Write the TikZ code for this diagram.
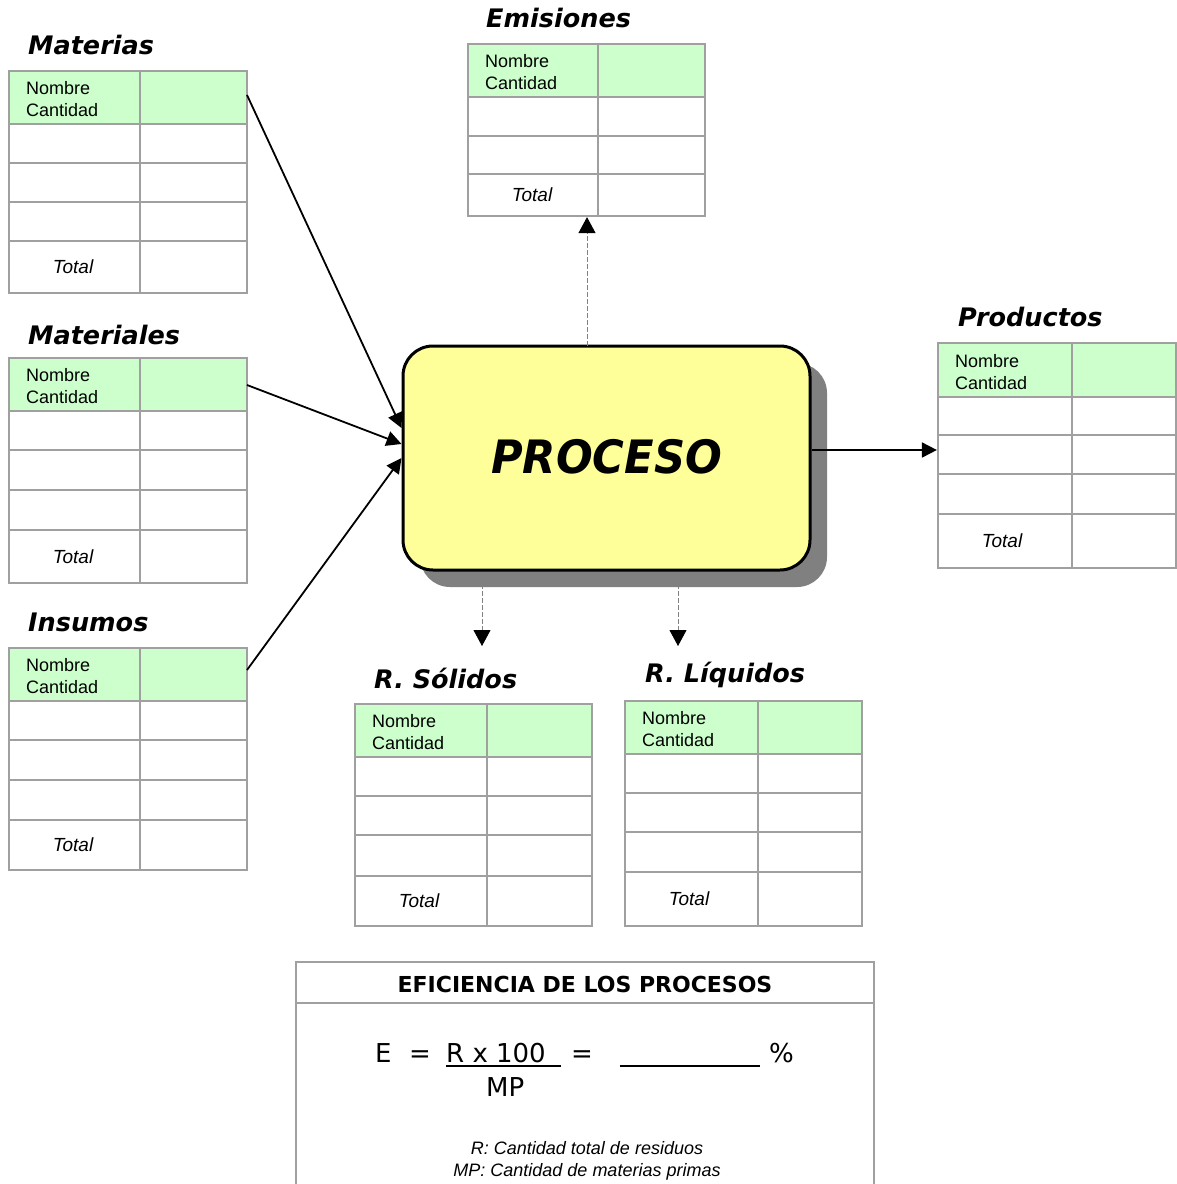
\documentclass[tikz,border=0pt]{standalone}
\usepackage{fontspec}
\setmainfont{Liberation Sans}
\newfontfamily\vfont{DejaVu Sans}
\usetikzlibrary{arrows.meta,calc}

\definecolor{headgreen}{HTML}{CCFFCC}
\definecolor{gridgray}{HTML}{A0A0A0}
\definecolor{procyellow}{HTML}{FFFF99}
\definecolor{shadowgray}{HTML}{808080}

\tikzset{
  grid line/.style={draw=gridgray, line width=2.2pt},
  cell text/.style={font=\fontsize{18}{22}\selectfont, align=left, inner sep=0pt, anchor=west},
  total text/.style={font=\fontsize{19}{22}\selectfont\itshape, inner sep=0pt},
  group title/.style={font=\vfont\bfseries\itshape\fontsize{25.5}{30}\selectfont, inner sep=0pt, anchor=west},
  flow/.style={line width=1.8pt, -{Triangle[length=15pt,width=15pt]}},
  aux flow/.style={draw=gray, line width=0.9pt, dash pattern=on 5pt off 2pt,
    -{Triangle[length=16pt,width=17pt,color=black]}},
  formula/.style={font=\vfont\fontsize{26}{30}\selectfont, inner sep=0pt, anchor=base west},
  note text/.style={font=\fontsize{18}{24}\selectfont\itshape, inner sep=0pt, align=center},
}

% #1 name, #2 left x, #3 column split x, #4 right x, #5 top y, #6 header bottom y,
% #7 inner row lines, #8 top of the total row, #9 bottom y
\newcommand{\flowtab}[9]{%
  \fill[headgreen] (#2,#5) rectangle (#4,#6);
  \node[grid line, inner sep=0pt, minimum width={(#4-#2)*1pt}, minimum height={(#9-#5)*1pt}]
    (#1) at ({(#2+#4)/2},{(#5+#9)/2}) {};
  \draw[grid line] (#3,#5) -- (#3,#9);
  \foreach \yy in {#6,#7,#8} \draw[grid line] (#2,\yy) -- (#4,\yy);
  \node[cell text] (#1-head) at ({#2+17},{(#5+#6)/2+2}) {Nombre\\Cantidad};
  \node[total text] (#1-total) at ({#2+64},{(#8+#9)/2}) {Total};
}

\begin{document}
\begin{tikzpicture}[x=1pt,y=-1pt]
\useasboundingbox[fill=white] (0,0) rectangle (1177,1184);

% input, output and residue tables
\flowtab{mat}{9}{140}{247}{71}{124}{163,202}{241}{293}
\flowtab{matl}{9}{140}{247}{358}{411}{450,490}{530}{583}
\flowtab{ins}{9}{140}{247}{648}{701}{740,780}{820}{870}
\flowtab{emi}{468}{598}{705}{44}{97}{136}{174}{216}
\flowtab{prod}{938}{1072}{1176}{343}{397}{435,474}{514}{568}
\flowtab{sol}{355}{487}{592}{704}{757}{796,835}{876}{926}
\flowtab{liq}{625}{758}{862}{701}{754}{793,832}{872}{926}

% table titles
\node[group title] (t-mat)  at (28,45)  {Materias};
\node[group title] (t-matl) at (28,335) {Materiales};
\node[group title] (t-ins)  at (28,622) {Insumos};
\node[group title] (t-emi)  at (486,18) {Emisiones};
\node[group title] (t-prod) at (958,317) {Productos};
\node[group title] (t-sol)  at (374,678) {R. Sólidos};
\node[group title] (t-liq)  at (645,675) {R. Líquidos};

% central process box with its drop shadow
\fill[shadowgray, rounded corners=30pt] (420,363) rectangle (827,587);
\node[draw, line width=3pt, fill=procyellow, rounded corners=30pt,
      minimum width=407pt, minimum height=224pt, inner sep=0pt,
      font=\vfont\bfseries\itshape\fontsize{46}{50}\selectfont] (proc) at (606.5,458)
      {\raisebox{3pt}{\scalebox{0.94}[1]{PROCESO}}};

% inputs
\coordinate (mat-out)  at (247,95);
\coordinate (matl-out) at (247,385);
\coordinate (ins-out)  at (247,670);
\draw[flow] (mat-out)  -- ($(proc.west)+(0,-30)$);
\draw[flow] (matl-out) -- ($(proc.west)+(0,-14)$);
\draw[flow] (ins-out)  -- ($(proc.west)+(0,0)$);

% outputs
\coordinate (p-out) at ($(proc.east)+(0,-8)$);
\draw[flow] (p-out) -- (p-out -| prod.west);

\coordinate (e-src) at (587,346);
\draw[aux flow] (e-src) -- (e-src |- emi.south);

\coordinate (s-src) at (482,584);
\coordinate (s-tip) at (482,646);
\coordinate (l-src) at (678,584);
\coordinate (l-tip) at (678,646);
\draw[aux flow] (s-src) -- (s-tip);
\draw[aux flow] (l-src) -- (l-tip);

% efficiency box
\node[grid line, inner sep=0pt, minimum width=578pt, minimum height=232pt] (eff) at (585,1078) {};
\draw[grid line] (eff.west |- 0,1003) -- (eff.east |- 0,1003);
\node[font=\vfont\bfseries\fontsize{22}{26}\selectfont, inner sep=0pt] (eff-title) at (585,984)
  {EFICIENCIA DE LOS PROCESOS};

\node[formula] (f-e)   at (375,1062) {E};
\node[formula] (f-eq1) at (409,1062) {=};
\node[formula] (f-num) at (446,1062) {R x 100};
\node[formula] (f-eq2) at (571,1062) {=};
\node[formula] (f-pc)  at (769,1062) {\%};
\node[formula] (f-den) at (486,1096) {MP};
\draw[line width=2pt] (446,1066) -- (561,1066);
\draw[line width=2pt] (620,1066) -- (760,1066);

\node[note text] (n-r)  at (587,1148) {R: Cantidad total de residuos};
\node[note text] (n-mp) at (587,1172) {MP: Cantidad de materias primas};
\end{tikzpicture}
\end{document}
